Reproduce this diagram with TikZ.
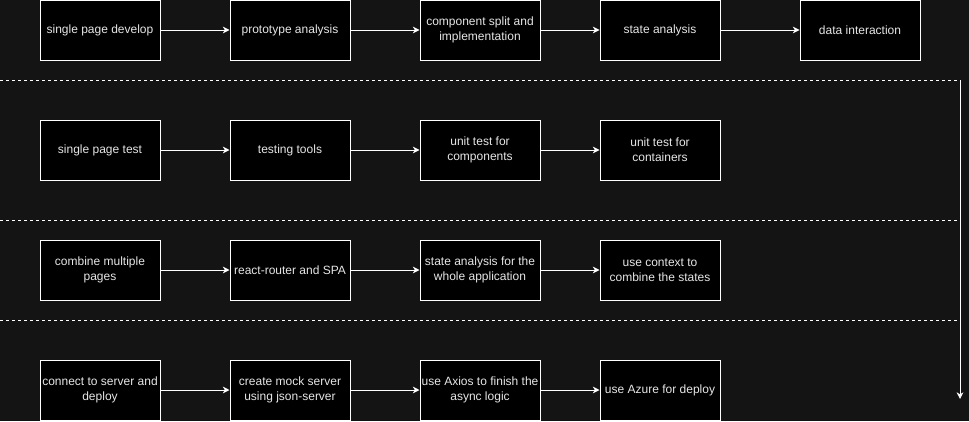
\documentclass[tikz,border=0pt]{standalone}
\usepackage{fontspec}
\setmainfont{Liberation Sans}
\usetikzlibrary{arrows.meta}
\definecolor{bgc}{HTML}{141414}
\definecolor{txt}{HTML}{E6E6E6}
\begin{document}
\begin{tikzpicture}[x=0.75pt,y=-0.75pt,
  stepbox/.style={draw=white,fill=black,line width=0.75pt,minimum width=90pt,minimum height=45pt,
    inner sep=0pt,text=txt,align=center,font=\fontsize{9pt}{11pt}\selectfont},
  flow/.style={draw=white,line width=0.75pt,-{Stealth[length=5pt,width=5pt,inset=1.5pt]}},
  sep/.style={draw=white,line width=0.75pt,dash pattern=on 2.25pt off 2.25pt}]
\fill[bgc] (0,0) rectangle (969,421);
\useasboundingbox (0,0) rectangle (969,421);
% row 1
\node[stepbox] (a1) at (100,30) {single page develop};
\node[stepbox] (a2) at (290,30) {prototype analysis};
\node[stepbox] (a3) at (480,30) {component split and\\implementation};
\node[stepbox] (a4) at (660,30) {state analysis};
\node[stepbox] (a5) at (860,30) {data interaction};
% row 2
\node[stepbox] (b1) at (100,150) {single page test};
\node[stepbox] (b2) at (290,150) {testing tools};
\node[stepbox] (b3) at (480,150) {unit test for\\components};
\node[stepbox] (b4) at (660,150) {unit test for\\containers};
% row 3
\node[stepbox] (c1) at (100,270) {combine multiple\\pages};
\node[stepbox] (c2) at (290,270) {react-router and SPA};
\node[stepbox] (c3) at (480,270) {state analysis for the\\whole application};
\node[stepbox] (c4) at (660,270) {use context to\\combine the states};
% row 4
\node[stepbox] (d1) at (100,390) {connect to server and\\deploy};
\node[stepbox] (d2) at (290,390) {create mock server\\using json-server};
\node[stepbox] (d3) at (480,390) {use Axios to finish the\\async logic};
\node[stepbox] (d4) at (660,390) {use Azure for deploy};
% arrows
\foreach \r in {a,b,c,d}{
  \draw[flow] (\r1) -- (\r2);
  \draw[flow] (\r2) -- (\r3);
  \draw[flow] (\r3) -- (\r4);
}
\draw[flow] (a4) -- (a5);
% separators
\coordinate (s1l) at (0,80);   \coordinate (s1r) at (958,80);
\coordinate (s2l) at (0,220);  \coordinate (s2r) at (958,220);
\coordinate (s3l) at (0,320);  \coordinate (s3r) at (958,320);
\draw[sep] (s1l) -- (s1r);
\draw[sep] (s2l) -- (s2r);
\draw[sep] (s3l) -- (s3r);
% vertical arrow
\coordinate (vt) at (960,80);
\coordinate (vb) at (960,399);
\draw[flow] (vt) -- (vb);
\end{tikzpicture}
\end{document}
